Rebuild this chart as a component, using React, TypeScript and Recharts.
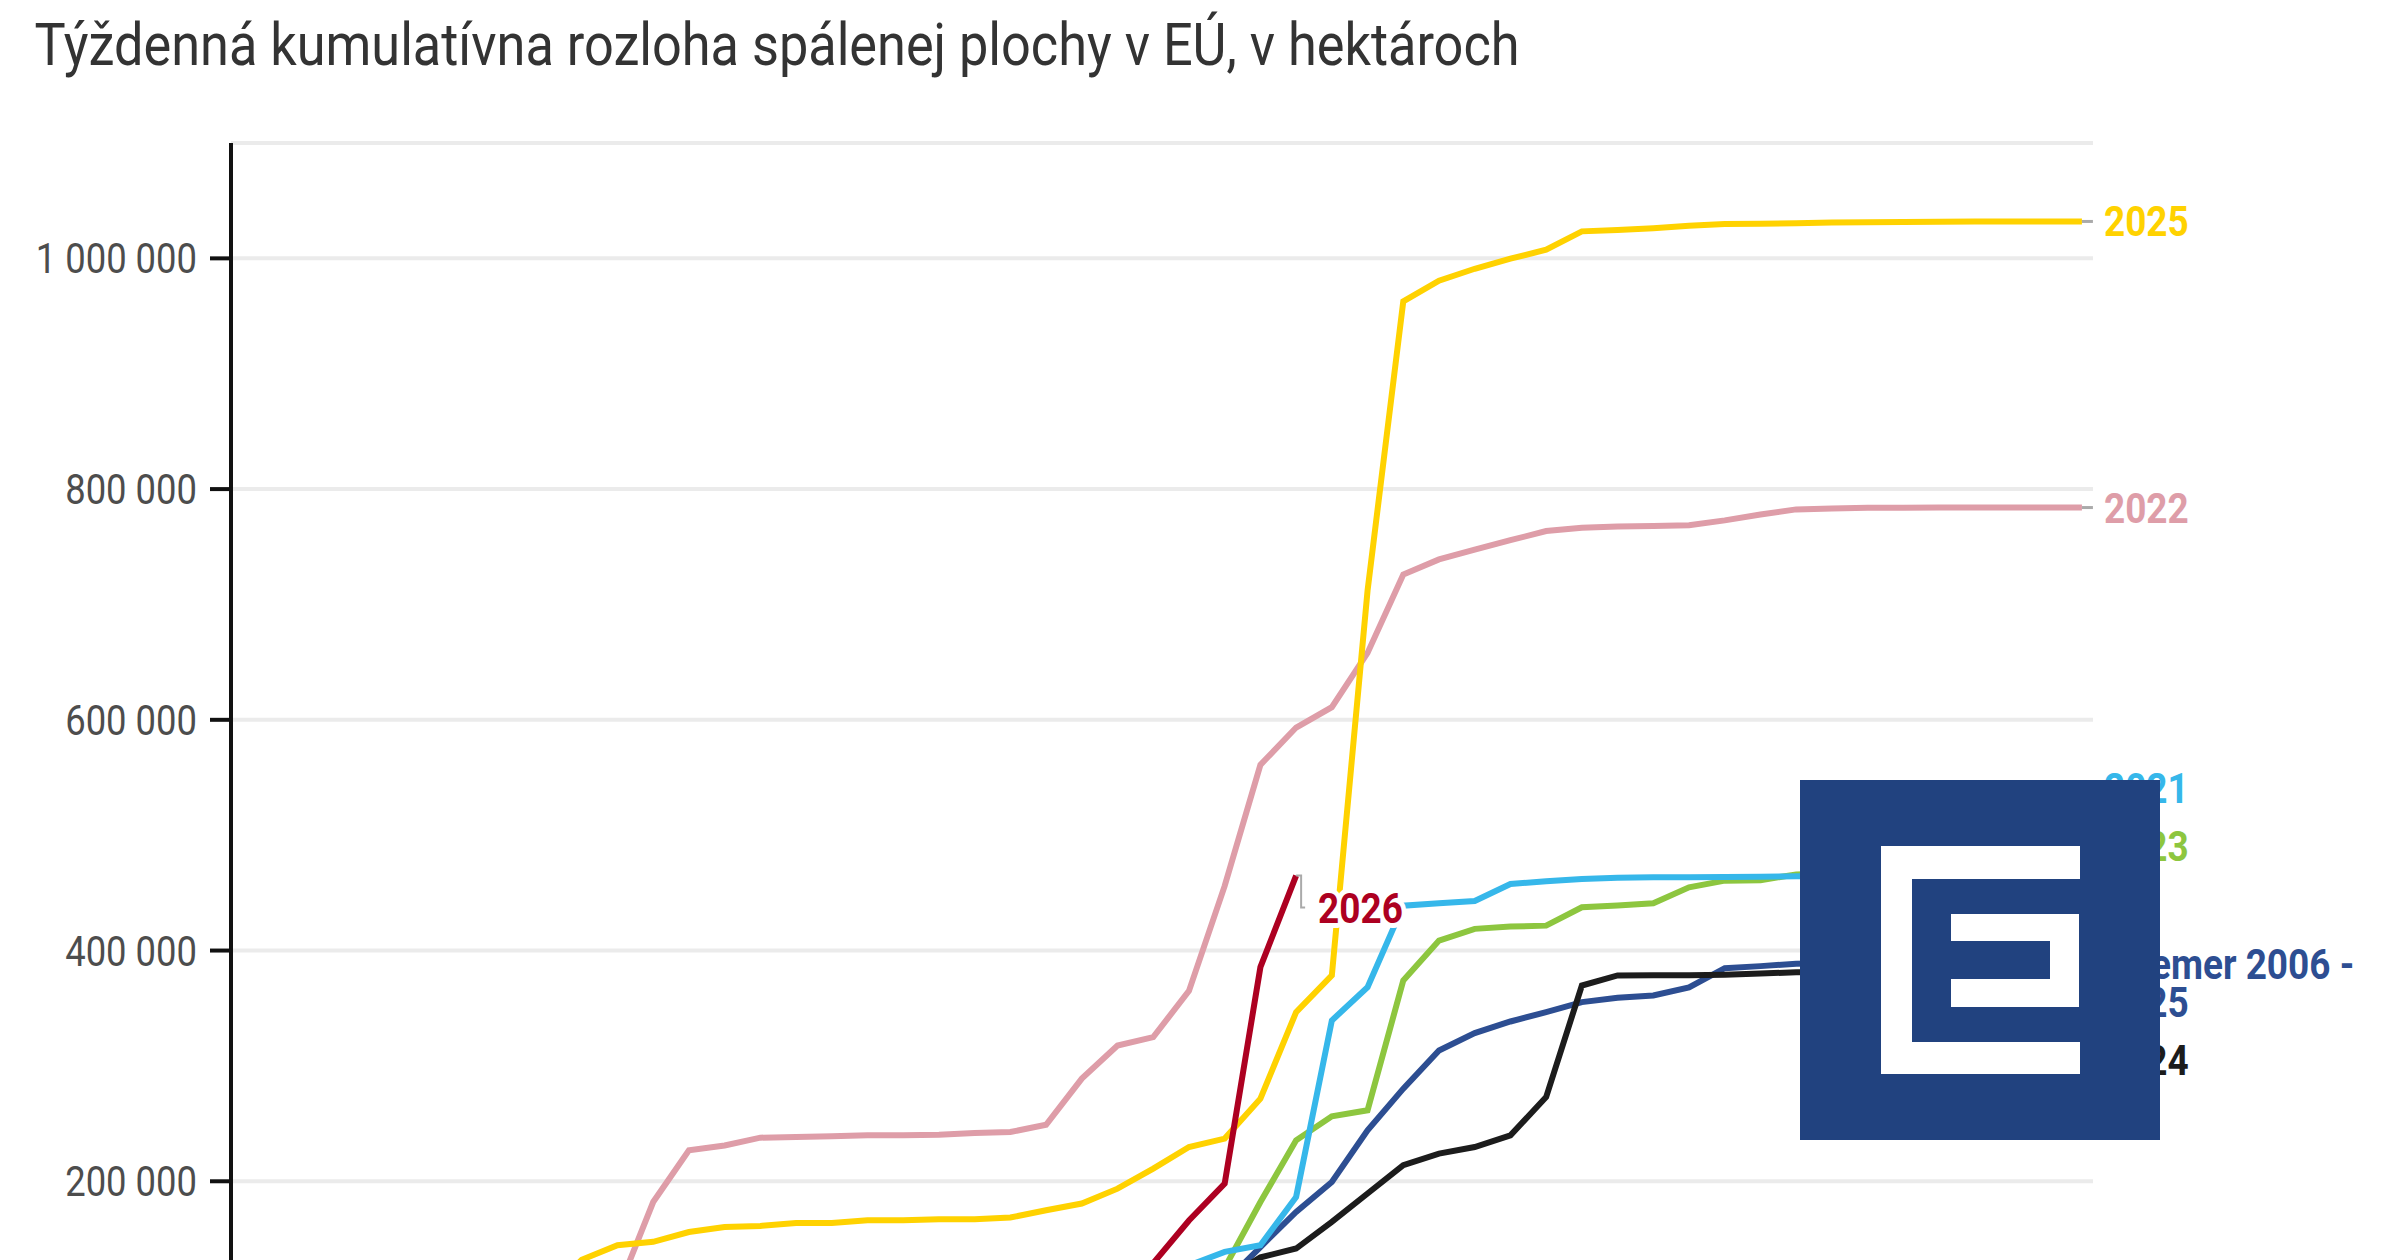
import React from 'react';
import { CartesianGrid, Line, LineChart, XAxis, YAxis } from 'recharts';

// week of the year, 1..52
const WEEKS = [
  1, 2, 3, 4, 5, 6, 7, 8, 9, 10, 11, 12, 13, 14, 15, 16, 17, 18, 19, 20, 21, 22, 23, 24, 25, 26,
  27, 28, 29, 30, 31, 32, 33, 34, 35, 36, 37, 38, 39, 40, 41, 42, 43, 44, 45, 46, 47, 48, 49, 50, 51, 52,
];

// cumulative burnt area, hectares
const Y2025 = [
  3000, 6000, 12000, 20000, 30000, 45000, 62000, 80000, 100000, 132000,
  144600, 147500, 156000, 160400, 161300, 163900, 163900, 166200, 166200, 167100,
  167100, 168600, 174900, 180700, 193600, 211000, 229700, 237000, 271600, 346600,
  378400, 712000, 962800, 980700, 991000, 999700, 1007500, 1023400, 1024500, 1026200,
  1028300, 1029700, 1030000, 1030500, 1031000, 1031300, 1031600, 1031800, 1032000, 1032000,
  1032000, 1032000,
];

const Y2022 = [
  1000, 2000, 4000, 8000, 14000, 20000, 28000, 38000, 50000, 65000,
  104500, 182000, 226800, 231000, 237800, 238400, 239000, 239800, 239800, 240400,
  241800, 242700, 249000, 289000, 317700, 325000, 365000, 456000, 561000, 593300,
  611000, 658000, 726000, 739000, 747500, 755700, 763600, 766500, 767600, 768000,
  768600, 772900, 778000, 782400, 783200, 783800, 783800, 784000, 784000, 784000,
  784000, 784000,
];

const Y2021 = [
  500, 1000, 2000, 4000, 6000, 9000, 12000, 15000, 18000, 21000,
  24000, 27000, 30000, 33000, 36000, 40000, 44000, 48000, 52000, 56000,
  60000, 65000, 72000, 80000, 95000, 112000, 127000, 138800, 144600, 186400,
  339400, 368200, 438900, 441000, 443000, 457700, 460000, 462000, 463000, 463500,
  463600, 463800, 464000, 464500, 464500, 464600, 464800, 465000, 465000, 465000,
  465000, 465000,
];

const Y2023 = [
  1000, 3000, 6000, 10000, 14000, 18000, 22000, 26000, 30000, 34000,
  38000, 42000, 46000, 50000, 53000, 56000, 59000, 62000, 65000, 68000,
  71000, 74000, 77000, 80000, 84000, 90000, 100000, 125000, 182000, 235500,
  256300, 261500, 374000, 408600, 418800, 420800, 421600, 437500, 439000, 441000,
  454800, 460600, 461000, 466000, 467000, 468000, 468500, 469000, 469500, 470000,
  470000, 470000,
];

const AVG_2006_2025 = [
  1500, 3000, 5000, 8000, 11000, 15000, 19000, 23000, 28000, 33000,
  37000, 40000, 43000, 46000, 49000, 52000, 55000, 58000, 61000, 64000,
  67000, 71000, 76000, 82000, 89000, 96000, 104000, 112000, 143000, 173400,
  199400, 244200, 280300, 313400, 328400, 338500, 346600, 355300, 359000, 361000,
  368000, 384700, 386500, 388500, 389000, 390000, 390500, 391000, 391500, 392000,
  392000, 392000,
];

const Y2024 = [
  2000, 4000, 6000, 8000, 10000, 12000, 14000, 16000, 18000, 20000,
  22000, 24000, 26000, 28000, 30000, 33000, 36000, 40000, 44000, 48000,
  52000, 56000, 60000, 65000, 72000, 80000, 95000, 115000, 134000, 141700,
  164800, 189400, 213900, 224000, 229700, 239800, 273000, 369700, 378400, 378500,
  378600, 379000, 380000, 381200, 381500, 382000, 382000, 382500, 383000, 383000,
  383000, 383000,
];

const Y2026 = [
  500, 1000, 2000, 4000, 6000, 9000, 12000, 15000, 18000, 21000,
  24000, 27000, 30000, 33000, 36000, 39000, 42000, 46000, 50000, 55000,
  60000, 68000, 78000, 92000, 108000, 129000, 166000, 198000, 385600, 465000,
  null, null, null, null, null, null, null, null, null, null,
  null, null, null, null, null, null, null, null, null, null,
  null, null,
];

// the 0 line sits below the visible crop
const Y_TICKS = [200000, 400000, 600000, 800000, 1000000];

const TITLE = 'Týždenná kumulatívna rozloha spálenej plochy v EÚ, v hektároch';

// draw order: later series sit on top
const SERIES = [
  { key: 'avg', values: AVG_2006_2025, color: '#2D4E92', label: ['Priemer 2006 -', '2025'], dy: 19 },
  { key: 'y2023', values: Y2023, color: '#8DC63F', label: ['2023'], dy: -9 },
  { key: 'y2021', values: Y2021, color: '#36B7EA', label: ['2021'], dy: -73 },
  { key: 'y2024', values: Y2024, color: '#1C1C1C', label: ['2024'], dy: 105 },
  { key: 'y2022', values: Y2022, color: '#DE9DA8', label: ['2022'], dy: 15 },
  { key: 'y2025', values: Y2025, color: '#FFD200', label: ['2025'], dy: 15 },
  { key: 'y2026', values: Y2026, color: '#AD0021', label: ['2026'], dy: 47, current: true },
];

const data = WEEKS.map((week, i) => {
  const row: Record<string, number | null> = { week };
  SERIES.forEach((s) => {
    row[s.key] = s.values[i];
  });
  return row;
});

const formatTick = (v: number) => String(v).replace(/\B(?=(\d{3})+(?!\d))/g, ' ');

function YTick({ x, y, payload }: any) {
  return (
    <text
      transform={`translate(${x} ${y}) scale(0.867 1)`}
      dy="0.36em"
      textAnchor="end"
      fontFamily="Roboto, sans-serif"
      fontSize={42}
      fill="#4d4d4d"
    >
      {formatTick(payload.value)}
    </text>
  );
}

function makeEndLabel(s: (typeof SERIES)[number]) {
  let lastIndex = -1;
  s.values.forEach((v, i) => {
    if (v != null) lastIndex = i;
  });
  return (props: any) => {
    if (props.index !== lastIndex) return null;
    const vb = props.viewBox || {};
    const x = props.x ?? vb.x;
    const y = props.y ?? vb.y;
    if (x == null || y == null) return null;
    return (
      <g key={`end-${s.key}`}>
        {s.current ? (
          <path
            d={`M${x},${y} H${x + 5} V${y + 32} H${x + 9}`}
            stroke="#aaaaaa"
            strokeWidth={2}
            fill="none"
          />
        ) : (
          <line x1={x} x2={x + 11} y1={y} y2={y} stroke="#aaaaaa" strokeWidth={3} />
        )}
        <text
          transform={`translate(${x + 22} ${y + s.dy}) scale(0.88 1)`}
          fontFamily="Roboto, sans-serif"
          fontWeight={700}
          fontSize={42}
          fill={s.color}
          stroke="#ffffff"
          strokeWidth={10}
          strokeLinejoin="round"
          paintOrder="stroke"
        >
          {s.label.map((t, i) => (
            <tspan key={t} x={0} dy={i === 0 ? 0 : 38.4}>
              {t}
            </tspan>
          ))}
        </text>
      </g>
    );
  };
}

function Logo() {
  const blue = '#21427F';
  const box = (left: number, top: number, w: number, h: number, bg: string) => (
    <div style={{ position: 'absolute', left, top, width: w, height: h, background: bg }} />
  );
  return (
    <div style={{ position: 'absolute', left: 1800, top: 780, width: 360, height: 360, background: blue }}>
      {box(80.5, 66, 199, 228.3, '#ffffff')}
      {box(112, 99.3, 167.5, 162.4, blue)}
      {box(151.3, 134, 128.2, 92.7, '#ffffff')}
      {box(151.3, 161.3, 98.7, 37.7, blue)}
    </div>
  );
}

export default function App() {
  return (
    <div style={{ position: 'relative', width: 2400, height: 1260, overflow: 'hidden', background: '#fff' }}>
      <style>{'html,body{margin:0;padding:0;overflow:hidden;background:#fff}'}</style>
      <svg width={2400} height={100} style={{ position: 'absolute', left: 0, top: 0 }}>
        <text
          x={34.5}
          y={65}
          fontFamily="Roboto, sans-serif"
          fontSize={59}
          fill="#333333"
          textLength={1485}
          lengthAdjust="spacingAndGlyphs"
        >
          {TITLE}
        </text>
      </svg>
      <div style={{ position: 'absolute', left: 0, top: 0 }}>
        <LineChart width={2400} height={1440} data={data} margin={{ top: 143, right: 307, bottom: 28, left: 0 }}>
          <CartesianGrid vertical={false} stroke="#EBEBEB" strokeWidth={4} />
          <XAxis dataKey="week" type="number" domain={[0.18, 52.31]} hide allowDataOverflow />
          <YAxis
            width={231}
            domain={[0, 1100000]}
            ticks={Y_TICKS}
            interval={0}
            axisLine={{ stroke: '#111', strokeWidth: 4 }}
            tickLine={{ stroke: '#111', strokeWidth: 4 }}
            tickSize={21}
            tickMargin={13}
            tick={<YTick />}
          />
          {SERIES.map((s) => (
            <Line
              key={s.key}
              dataKey={s.key}
              stroke={s.color}
              strokeWidth={6}
              dot={false}
              activeDot={false}
              isAnimationActive={false}
              label={makeEndLabel(s)}
            />
          ))}
        </LineChart>
      </div>
      <Logo />
    </div>
  );
}
